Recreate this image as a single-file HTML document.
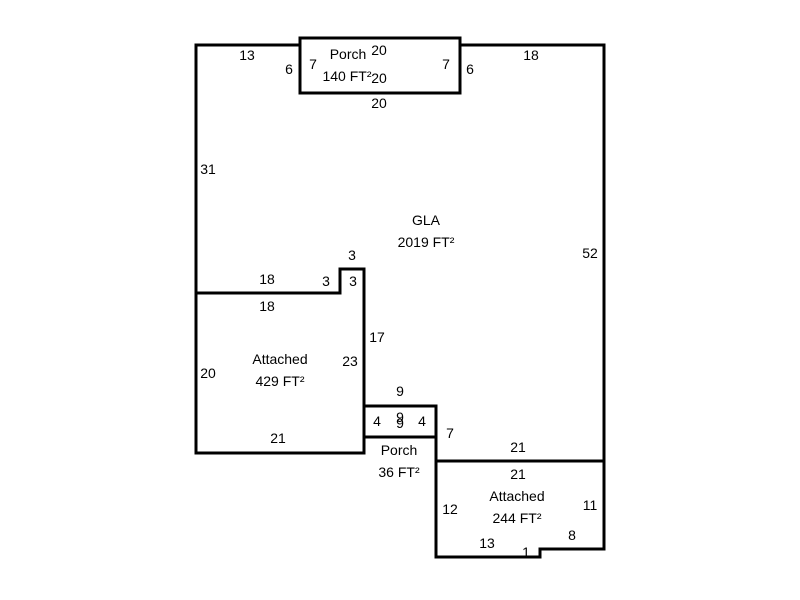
<!DOCTYPE html>
<html><head><style>
html,body{margin:0;padding:0;background:#fff;width:800px;height:600px;overflow:hidden}
text{font-family:"Liberation Sans",Arial,sans-serif;font-size:14px;fill:#000;text-anchor:middle}
</style></head><body>
<svg width="800" height="600" xmlns="http://www.w3.org/2000/svg">
<g fill="none" stroke="#000" stroke-width="3" stroke-linejoin="miter" stroke-linecap="square">
<polyline points="300,45 196,45 196,453 364,453"/>
<polyline points="460,45 604,45 604,549 540,549 540,557 436,557 436,406"/>
<rect x="300" y="38" width="160" height="55"/>
<polyline points="196,293 340,293 340,269 364,269 364,453"/>
<rect x="364" y="406" width="72" height="31"/>
<line x1="436" y1="461" x2="604" y2="461"/>
</g>
<text x="247" y="60">13</text>
<text x="289" y="74">6</text>
<text x="313" y="69">7</text>
<text x="348" y="59">Porch</text>
<text x="379" y="55">20</text>
<text x="347" y="81">140 FT²</text>
<text x="379" y="83">20</text>
<text x="446" y="69">7</text>
<text x="470" y="74">6</text>
<text x="531" y="60">18</text>
<text x="379" y="108">20</text>
<text x="208" y="174">31</text>
<text x="426" y="225">GLA</text>
<text x="426" y="247">2019 FT²</text>
<text x="590" y="258">52</text>
<text x="352" y="260">3</text>
<text x="267" y="284">18</text>
<text x="326" y="286">3</text>
<text x="353" y="286">3</text>
<text x="267" y="311">18</text>
<text x="377" y="342">17</text>
<text x="280" y="364">Attached</text>
<text x="280" y="386">429 FT²</text>
<text x="350" y="366">23</text>
<text x="208" y="378">20</text>
<text x="400" y="396">9</text>
<text x="377" y="426">4</text>
<text x="400" y="422">9</text>
<text x="400" y="428">9</text>
<text x="422" y="426">4</text>
<text x="278" y="443">21</text>
<text x="450" y="438">7</text>
<text x="399" y="455">Porch</text>
<text x="399" y="477">36 FT²</text>
<text x="518" y="452">21</text>
<text x="518" y="479">21</text>
<text x="517" y="501">Attached</text>
<text x="517" y="523">244 FT²</text>
<text x="450" y="514">12</text>
<text x="590" y="510">11</text>
<text x="572" y="540">8</text>
<text x="487" y="548">13</text>
<text x="526" y="557">1</text>
</svg>
</body></html>
